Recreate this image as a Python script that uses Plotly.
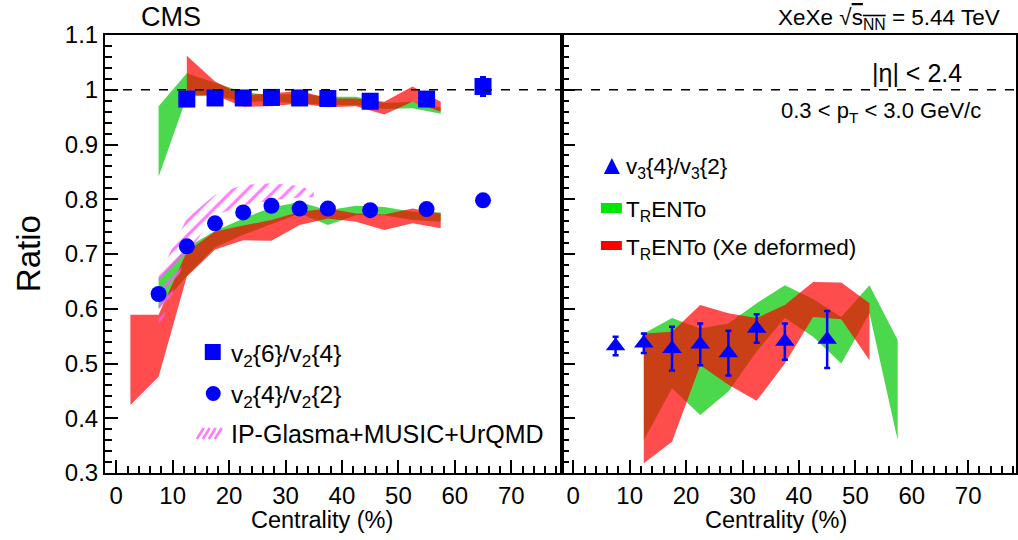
import plotly.graph_objects as go

# ---------------- data ----------------
# Left panel: v2 cumulant ratios
cent_v2_64 = [12.5, 17.5, 22.5, 27.5, 32.5, 37.5, 45, 55, 65]
v2_64 = [0.983, 0.985, 0.985, 0.986, 0.985, 0.984, 0.979, 0.983, 1.006]
v2_64_err = [0.004, 0.003, 0.003, 0.003, 0.003, 0.003, 0.003, 0.004, 0.017]

cent_v2_42 = [7.5, 12.5, 17.5, 22.5, 27.5, 32.5, 37.5, 45, 55, 65]
v2_42 = [0.627, 0.714, 0.756, 0.776, 0.788, 0.783, 0.783, 0.780, 0.782, 0.798]

# TRENTo v2{6}/v2{4}
tr_x_64 = [7.5, 12.5, 17.5, 22.5, 27.5, 32.5, 37.5, 42.5, 47.5, 52.5, 57.5]
tr_64_hi = [0.970, 1.030, 1.013, 0.996, 0.990, 0.993, 0.987, 0.987, 0.976, 0.978, 0.968]
tr_64_lo = [0.841, 0.987, 0.990, 0.978, 0.978, 0.975, 0.972, 0.972, 0.965, 0.966, 0.956]
# TRENTo deformed v2{6}/v2{4}
trd_x_64 = [12.5, 17.5, 22.5, 27.5, 32.5, 37.5, 42.5, 47.5, 52.5, 57.5]
trd_64_hi = [1.062, 1.015, 0.990, 0.993, 0.998, 0.984, 0.984, 0.978, 1.006, 0.978]
trd_64_lo = [0.990, 0.990, 0.969, 0.970, 0.975, 0.968, 0.970, 0.955, 0.978, 0.960]

# TRENTo v2{4}/v2{2}
tr_x_42 = [7.5, 12.5, 17.5, 22.5, 27.5, 32.5, 37.5, 42.5, 47.5, 52.5, 57.5]
tr_42_hi = [0.655, 0.712, 0.742, 0.765, 0.785, 0.795, 0.780, 0.788, 0.786, 0.777, 0.776]
tr_42_lo = [0.600, 0.660, 0.712, 0.735, 0.755, 0.774, 0.753, 0.771, 0.771, 0.762, 0.759]
# TRENTo deformed v2{4}/v2{2}
trd_x_42 = [2.5, 7.5, 12.5, 17.5, 22.5, 27.5, 32.5, 37.5, 42.5, 47.5, 52.5, 57.5]
trd_42_hi = [0.589, 0.589, 0.704, 0.741, 0.752, 0.762, 0.777, 0.783, 0.774, 0.772, 0.783, 0.774]
trd_42_lo = [0.424, 0.476, 0.659, 0.708, 0.725, 0.724, 0.753, 0.765, 0.759, 0.744, 0.756, 0.747]

# IP-Glasma+MUSIC+UrQMD v2{4}/v2{2}
ipg_x = [7.5, 12.5, 17.5, 22.5, 27.5, 32.5, 35]
ipg_hi = [0.660, 0.765, 0.808, 0.826, 0.829, 0.824, 0.814]
ipg_lo = [0.560, 0.700, 0.771, 0.789, 0.798, 0.803, 0.804]

# Right panel: v3{4}/v3{2}
cent_v3 = [7.5, 12.5, 17.5, 22.5, 27.5, 32.5, 37.5, 45]
v3_42 = [0.532, 0.537, 0.527, 0.535, 0.519, 0.564, 0.540, 0.544]
v3_42_err = [0.017, 0.018, 0.040, 0.038, 0.041, 0.026, 0.033, 0.052]

tr_x_v3 = [12.5, 17.5, 22.5, 27.5, 32.5, 37.5, 42.5, 47.5, 52.5, 57.5]
tr_v3_hi = [0.555, 0.583, 0.564, 0.573, 0.610, 0.643, 0.618, 0.585, 0.643, 0.543]
tr_v3_lo = [0.360, 0.455, 0.406, 0.449, 0.522, 0.583, 0.549, 0.500, 0.592, 0.360]

trd_x_v3 = [12.5, 17.5, 22.5, 27.5, 32.5, 37.5, 42.5, 47.5, 52.5]
trd_v3_hi = [0.555, 0.558, 0.607, 0.592, 0.583, 0.607, 0.649, 0.648, 0.610]
trd_v3_lo = [0.318, 0.357, 0.497, 0.461, 0.432, 0.500, 0.585, 0.581, 0.506]

x_ticks = [0, 10, 20, 30, 40, 50, 60, 70]
y_ticks = [0.3, 0.4, 0.5, 0.6, 0.7, 0.8, 0.9, 1.0, 1.1]
y_tick_text = ["0.3", "0.4", "0.5", "0.6", "0.7", "0.8", "0.9", "1", "1.1"]
REF_LINE = 1.0

# ---------------- styles ----------------
GREEN = "rgba(0,200,0,0.7)"
RED = "rgba(255,0,0,0.7)"
BLUE = "rgb(0,0,255)"
MAGENTA = "rgba(255,90,255,0.8)"
FONT = "Liberation Sans, Arial, sans-serif"

fig = go.Figure()


def band(x, hi, lo, color, xa, ya, pattern=None):
    kw = dict(
        x=list(x) + list(x)[::-1],
        y=list(hi) + list(lo)[::-1],
        fill="toself",
        mode="lines",
        line=dict(width=0, color="rgba(0,0,0,0)"),
        fillcolor=color,
        xaxis=xa, yaxis=ya,
        hoverinfo="skip",
        showlegend=False,
    )
    if pattern is not None:
        kw["fillpattern"] = pattern
    fig.add_trace(go.Scatter(**kw))


# Left panel bands
band(tr_x_64, tr_64_hi, tr_64_lo, GREEN, "x", "y")
band(tr_x_42, tr_42_hi, tr_42_lo, GREEN, "x", "y")
band(trd_x_64, trd_64_hi, trd_64_lo, RED, "x", "y")
band(trd_x_42, trd_42_hi, trd_42_lo, RED, "x", "y")
band(ipg_x, ipg_hi, ipg_lo, "rgba(0,0,0,0)", "x", "y",
     pattern=dict(shape="/", fgcolor=MAGENTA, bgcolor="rgba(0,0,0,0)",
                  size=10, solidity=0.3, fillmode="replace"))

# Right panel bands
band(tr_x_v3, tr_v3_hi, tr_v3_lo, GREEN, "x2", "y2")
band(trd_x_v3, trd_v3_hi, trd_v3_lo, RED, "x2", "y2")

# Data points
fig.add_trace(go.Scatter(
    x=cent_v2_64, y=v2_64, mode="markers",
    marker=dict(symbol="square", size=17, color=BLUE, line=dict(width=0)),
    error_y=dict(type="data", array=v2_64_err, color=BLUE, thickness=2.5, width=3),
    xaxis="x", yaxis="y", showlegend=False))
fig.add_trace(go.Scatter(
    x=cent_v2_42, y=v2_42, mode="markers",
    marker=dict(symbol="circle", size=16, color=BLUE, line=dict(width=0)),
    xaxis="x", yaxis="y", showlegend=False))
fig.add_trace(go.Scatter(
    x=cent_v3, y=v3_42, mode="markers",
    marker=dict(symbol="triangle-up", size=17, color=BLUE, line=dict(width=0)),
    error_y=dict(type="data", array=v3_42_err, color=BLUE, thickness=2.5, width=3),
    xaxis="x2", yaxis="y2", showlegend=False))

# ---------------- layout ----------------
L, T, B, W, H = 105, 35, 67, 1018, 540
PW = W - L
PH = H - T - B
split = 458 / PW


def px(x):
    return (x - L) / PW


def py(y):
    return (H - B - y) / PH


axis_common = dict(
    showgrid=False, zeroline=False,
    showline=True, linecolor="black", linewidth=2, mirror=True,
    ticks="inside", ticklen=13, tickwidth=2, tickcolor="black",
    tickfont=dict(family=FONT, size=24, color="black"),
)
xaxis_common = dict(axis_common, tickvals=x_ticks,
                    minor=dict(ticks="inside", ticklen=7, tickwidth=1.5,
                               tickcolor="black", dtick=2, tick0=0))
yaxis_common = dict(axis_common, tickvals=y_ticks, ticktext=y_tick_text,
                    range=[0.3, 1.1],
                    minor=dict(ticks="inside", ticklen=7, tickwidth=1.5,
                               tickcolor="black", dtick=0.02, tick0=0.3))

fig.update_layout(
    width=W, height=H,
    margin=dict(l=L, r=0, t=T, b=B),
    paper_bgcolor="white", plot_bgcolor="white",
    font=dict(family=FONT, color="black"),
    xaxis=dict(xaxis_common, domain=[0, split], range=[-2, 79], anchor="y"),
    yaxis=dict(yaxis_common, domain=[0, 1], anchor="x"),
    xaxis2=dict(xaxis_common, domain=[split, 1], range=[-2, 78.47], anchor="y2"),
    yaxis2=dict(yaxis_common, domain=[0, 1], anchor="x2", showticklabels=False),
    showlegend=False,
)

shapes = []
# reference line at ratio = 1
shapes.append(dict(type="line", xref="paper", yref="y", x0=0, x1=1,
                   y0=REF_LINE, y1=REF_LINE,
                   line=dict(color="black", width=1.5, dash="dash")))
# left legend symbols
shapes.append(dict(type="rect", xref="paper", yref="paper",
                   x0=px(205), x1=px(221), y0=py(360), y1=py(344),
                   fillcolor=BLUE, line=dict(width=0)))
shapes.append(dict(type="circle", xref="paper", yref="paper",
                   x0=px(206), x1=px(221), y0=py(401), y1=py(386),
                   fillcolor=BLUE, line=dict(width=0)))
for x0 in (197, 203, 209, 215):
    shapes.append(dict(type="line", xref="paper", yref="paper",
                       x0=px(x0), x1=px(x0 + 7), y0=py(439), y1=py(428),
                       line=dict(color=MAGENTA, width=2.5)))
# right legend symbols
tri = "M {a},{b} L {c},{b} L {d},{e} Z".format(
    a=px(605), c=px(621), b=py(174), d=px(613), e=py(158))
shapes.append(dict(type="path", xref="paper", yref="paper", path=tri,
                   fillcolor=BLUE, line=dict(width=0)))
shapes.append(dict(type="rect", xref="paper", yref="paper",
                   x0=px(602), x1=px(623), y0=py(213), y1=py(203),
                   fillcolor="rgb(0,230,0)", line=dict(width=0)))
shapes.append(dict(type="rect", xref="paper", yref="paper",
                   x0=px(602), x1=px(623), y0=py(250), y1=py(241),
                   fillcolor="rgb(255,0,0)", line=dict(width=0)))
fig.update_layout(shapes=shapes)


def ann(text, x, y, size, xanchor="left", yanchor="middle", angle=0):
    return dict(text=text, x=x, y=y, xref="paper", yref="paper",
                xanchor=xanchor, yanchor=yanchor, showarrow=False,
                textangle=angle,
                font=dict(family=FONT, size=size, color="black"))


annotations = [
    ann("CMS", px(139), py(17), 27),
    ann("XeXe √<span style='text-decoration:overline'>s<sub>NN</sub></span> = 5.44 TeV",
        px(1004), py(19), 22.5, xanchor="right"),
    ann("|η| < 2.4", px(966), py(73), 25, xanchor="right"),
    ann("0.3 < p<sub>T</sub> < 3.0 GeV/c", px(985), py(112), 22, xanchor="right"),
    ann("v<sub>2</sub>{6}/v<sub>2</sub>{4}", px(229), py(355), 24.5),
    ann("v<sub>2</sub>{4}/v<sub>2</sub>{2}", px(229), py(396), 24.5),
    ann("IP-Glasma+MUSIC+UrQMD", px(229), py(434), 25),
    ann("v<sub>3</sub>{4}/v<sub>3</sub>{2}", px(625), py(168), 22.5),
    ann("T<sub>R</sub>ENTo", px(625), py(211), 22.5),
    ann("T<sub>R</sub>ENTo (Xe deformed)", px(625), py(249), 22.5),
    ann("Ratio", px(28), py(254), 33, xanchor="center", angle=-90),
    ann("Centrality (%)", px(322), py(520), 23.5, xanchor="center"),
    ann("Centrality (%)", px(777), py(520), 23.5, xanchor="center"),
]
fig.update_layout(annotations=annotations)

fig.write_html(
    "out.html",
    config={"displayModeBar": False},
    post_script="document.body.style.margin='0';document.body.style.padding='0';",
)
